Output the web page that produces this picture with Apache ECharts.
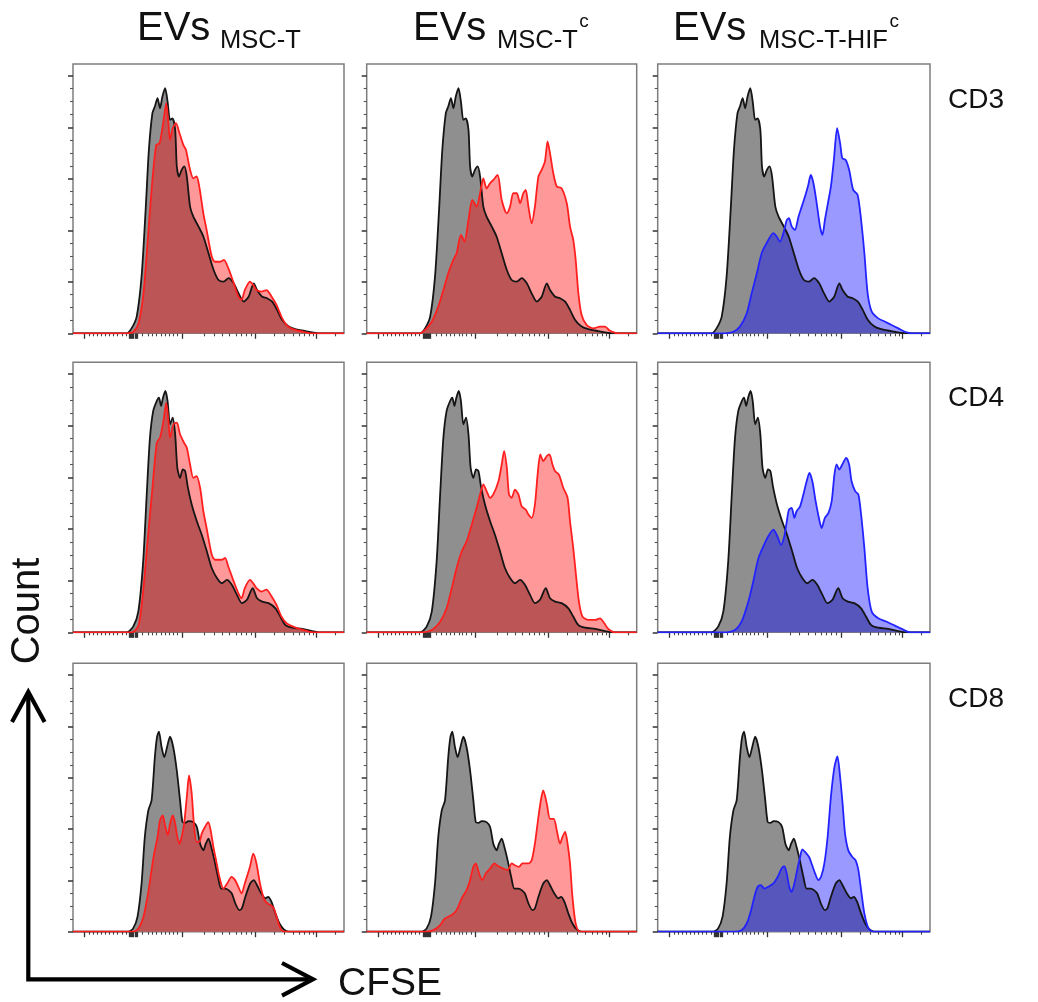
<!DOCTYPE html>
<html>
<head>
<meta charset="utf-8">
<script src="https://cdn.jsdelivr.net/npm/echarts@6/dist/echarts.min.js"></script>
<style>
  html, body { margin: 0; padding: 0; background: #ffffff; }
  #chart { width: 1038px; height: 1002px; }
</style>
</head>
<body>
<div id="chart"></div>
<script>
// ---------------- DATA ----------------
// x: CFSE display channel (0-100 across the plot), y: Count (major tick every 20)
const xMajorTicks = [4.2, 20.8, 21.2, 21.6, 22.0, 22.4, 22.8, 23.2, 23.6, 40.2, 67.3, 89.9];
const xMinorTicks = [6.0, 7.5, 9.1, 10.6, 11.9, 13.4, 14.9, 16.5, 18.0, 19.6,
  25.7, 27.6, 29.4, 30.9, 32.5, 34.1, 35.5, 37.0, 38.6,
  48.5, 52.1, 55.2, 57.7, 60.1, 62.0, 63.8, 65.7,
  74.3, 78.0, 81.1, 83.5, 85.3, 87.2, 88.7, 96.8];
const yMajorTicks = [0, 20, 40, 60, 80, 100];
const yMinorTicks = [5, 10, 15, 25, 30, 35, 45, 50, 55, 65, 70, 75, 85, 90, 95];

const columnMain = ['EVs', 'EVs', 'EVs'];
const columnSub = ['MSC-T', 'MSC-T', 'MSC-T-HIF'];
const columnSup = ['', 'c', 'c'];
const rowLabels = ['CD3', 'CD4', 'CD8'];
const xTitle = 'CFSE';
const yTitle = 'Count';

// Unstimulated / control histograms (grey), one per row
const ctrlCD3 = [[0,0],[19.8,0],[21.6,1.9],[23.5,6.5],[25.3,22.0],[26.8,47.9],[28.0,71.2],[29.3,85.5],[30.2,88.1],[31.2,91.3],[32.1,87.4],[33.0,92.0],[34.0,95.2],[34.9,90.0],[35.8,82.9],[36.7,83.5],[37.7,79.0],[38.3,64.8],[39.1,60.9],[40.1,63.5],[41.1,64.8],[42.0,60.9],[43.2,49.2],[44.4,45.3],[46.3,41.5],[48.1,37.6],[50.0,31.1],[51.9,24.6],[53.7,20.7],[55.6,20.1],[57.4,21.4],[59.3,19.4],[61.1,15.5],[63.0,12.3],[64.8,14.2],[66.7,19.4],[67.9,16.8],[69.8,14.2],[71.6,13.6],[73.5,12.3],[75.3,9.1],[77.2,5.2],[79.6,2.6],[82.1,1.6],[87.0,0.6],[90.7,0],[100,0]];
const ctrlCD4 = [[0,0],[19.8,0],[22.2,2.2],[24.1,8.0],[25.9,27.5],[27.2,53.4],[28.4,75.4],[29.6,85.8],[30.9,89.6],[31.7,90.9],[32.5,87.7],[33.2,90.9],[34.1,93.5],[34.9,89.6],[35.8,80.6],[36.8,83.2],[37.7,76.7],[38.5,63.7],[39.5,59.8],[40.5,63.1],[41.4,62.4],[42.3,56.6],[43.8,49.5],[45.7,43.0],[47.5,37.8],[49.4,31.3],[51.2,24.9],[53.1,21.0],[54.9,19.0],[56.8,20.3],[58.6,18.4],[60.5,14.5],[62.3,11.3],[64.2,12.6],[66.3,17.1],[67.9,13.2],[69.8,11.9],[72.2,11.3],[74.7,9.3],[76.5,6.1],[78.4,2.8],[80.9,1.8],[84.6,1.3],[88.3,0.5],[90.7,0],[100,0]];
const ctrlCD8 = [[0,0],[20.4,0],[22.2,1.3],[23.8,5.8],[25.3,18.8],[26.5,36.9],[27.8,47.3],[29.0,51.2],[30.2,68.0],[31.0,75.8],[31.7,78.0],[32.7,71.9],[33.7,68.0],[34.7,71.9],[35.8,76.0],[37.0,71.9],[38.3,62.8],[39.5,51.2],[40.4,42.7],[41.4,42.4],[42.6,43.1],[44.4,42.7],[45.7,40.8],[46.9,34.3],[48.1,31.7],[49.0,34.3],[50.0,36.3],[51.0,33.0],[52.2,27.8],[53.5,21.4],[54.7,16.8],[56.2,16.8],[57.4,16.2],[58.6,14.9],[59.9,11.0],[61.4,8.4],[62.3,9.1],[63.6,13.6],[65.4,18.8],[66.7,20.1],[67.9,18.1],[69.5,14.9],[71.0,13.0],[72.0,13.6],[73.2,11.7],[74.7,7.1],[76.2,3.2],[77.8,0.9],[79.6,0],[100,0]];

// EVs MSC-T (red)
const mscT_CD3 = [[0,0],[19.9,0],[22.3,0.6],[24.2,3.9],[26.0,15.5],[27.5,35.0],[29.1,57.0],[30.7,73.2],[31.9,73.8],[32.8,78.4],[33.6,84.2],[34.4,89.4],[35.2,81.6],[35.8,75.1],[36.8,79.7],[38.0,81.6],[39.3,77.7],[40.7,73.2],[41.7,71.2],[43.2,63.5],[44.4,60.2],[45.6,60.9],[46.6,57.0],[48.1,46.6],[49.3,40.2],[51.2,29.8],[52.4,27.8],[54.2,27.8],[55.7,28.5],[57.3,25.3],[59.1,20.1],[61.0,14.2],[62.2,13.0],[63.4,16.8],[65.3,20.1],[66.5,18.8],[67.7,16.8],[69.6,16.2],[71.4,16.8],[73.3,14.2],[75.1,11.0],[76.9,6.5],[78.8,3.2],[81.2,1.6],[84.9,0.6],[88.6,0],[100,0]];
const mscT_CD4 = [[0,0],[21.7,0],[24.2,2.8],[26.0,17.1],[27.5,35.2],[29.1,53.4],[30.9,73.4],[32.1,75.4],[33.4,81.9],[34.4,89.0],[35.2,81.9],[35.8,75.4],[37.1,80.6],[38.3,81.2],[39.5,76.7],[41.0,73.4],[42.0,71.5],[43.2,65.0],[44.4,59.8],[45.6,60.5],[46.9,56.0],[48.1,46.9],[49.3,40.4],[51.2,30.1],[52.4,28.1],[54.8,28.1],[56.1,28.8],[57.3,25.5],[59.1,20.3],[61.0,15.2],[62.2,13.2],[63.4,17.1],[65.3,20.3],[66.5,19.0],[67.7,17.1],[69.6,15.8],[71.4,16.5],[73.3,13.9],[75.1,10.6],[76.9,6.1],[78.8,3.5],[81.2,2.2],[84.9,0.9],[88.6,0],[100,0]];
const mscT_CD8 = [[0,0],[22.3,0],[24.2,1.3],[26.0,5.8],[27.9,16.2],[29.7,29.1],[31.2,36.9],[32.1,43.4],[33.1,45.3],[34.1,40.8],[35.0,37.6],[35.8,42.1],[36.8,45.3],[37.7,42.1],[38.5,36.9],[39.3,34.3],[40.1,36.9],[41.0,42.1],[42.0,52.5],[42.8,60.9],[43.8,53.8],[44.7,40.8],[45.6,35.0],[46.6,35.0],[47.5,38.2],[48.7,40.8],[49.9,42.7],[50.8,39.5],[51.8,33.0],[52.8,27.8],[54.0,21.4],[55.5,16.8],[56.9,18.8],[58.5,21.4],[59.8,20.1],[61.0,17.5],[62.2,14.9],[63.4,18.8],[65.3,25.3],[66.5,30.4],[67.7,26.6],[69.0,18.8],[70.4,13.0],[71.7,11.0],[72.9,10.4],[74.1,9.1],[75.1,5.8],[76.3,1.9],[77.8,0],[100,0]];

// EVs MSC-Tc (red)
const mscTc_CD3 = [[0,0],[19.8,0],[21.6,1.3],[24.1,4.5],[26.5,10.4],[28.4,16.8],[30.2,23.3],[32.1,28.5],[33.3,31.1],[34.9,38.2],[36.2,35.6],[37.7,44.0],[39.1,51.8],[40.7,49.2],[42.0,54.4],[43.2,60.2],[44.4,56.3],[45.7,58.3],[46.9,59.6],[48.5,61.5],[50.0,51.8],[51.9,46.6],[53.1,49.2],[54.3,54.4],[55.6,54.4],[56.8,50.5],[58.0,54.4],[58.9,55.7],[59.9,49.2],[61.1,42.7],[62.3,49.2],[63.6,60.9],[64.8,63.5],[66.0,66.7],[67.0,74.5],[67.9,69.9],[69.1,62.2],[70.4,57.0],[72.2,56.3],[74.1,50.5],[75.3,41.5],[76.5,36.3],[77.4,28.5],[78.4,15.5],[79.6,7.1],[81.5,3.2],[84.0,1.9],[86.4,2.6],[88.3,2.6],[90.1,1.0],[93.2,0],[100,0]];
const mscTc_CD4 = [[0,0],[20.4,0],[24.1,0.9],[27.2,4.1],[29.6,9.3],[31.5,17.1],[33.3,24.9],[35.2,31.3],[37.0,35.2],[38.9,41.7],[40.7,48.2],[42.0,53.4],[43.2,57.3],[44.4,54.7],[45.7,52.1],[46.9,53.4],[48.8,58.5],[50.0,65.0],[50.9,70.2],[51.9,63.7],[52.7,53.4],[53.7,52.1],[54.9,55.3],[56.2,53.4],[57.4,48.8],[58.9,47.5],[59.9,45.6],[61.1,44.3],[62.3,49.5],[63.3,61.1],[64.3,68.9],[65.4,66.3],[66.7,68.3],[67.7,68.9],[68.8,65.0],[69.8,62.4],[71.2,61.1],[72.8,56.0],[74.4,52.1],[75.3,43.0],[76.5,32.6],[77.5,22.3],[78.6,11.9],[79.9,6.1],[82.1,4.8],[84.6,4.8],[86.4,5.4],[88.0,3.5],[89.5,1.3],[92.0,0],[100,0]];
const mscTc_CD8 = [[0,0],[22.2,0],[24.7,0.6],[27.2,2.6],[29.0,5.2],[31.5,6.5],[33.3,8.4],[35.2,13.0],[37.0,16.2],[38.3,20.1],[39.5,25.3],[40.4,26.6],[41.6,22.7],[42.8,20.1],[44.1,22.7],[45.7,24.6],[47.3,26.6],[48.8,25.5],[50.6,24.6],[52.2,24.0],[53.7,26.6],[54.9,25.9],[56.4,25.3],[57.7,26.6],[58.9,26.6],[59.9,26.6],[61.1,27.8],[62.3,34.3],[63.6,44.7],[64.6,51.8],[65.4,55.1],[66.7,49.9],[67.9,44.0],[69.3,44.0],[70.4,39.5],[71.6,34.3],[72.5,36.9],[73.5,38.9],[74.3,35.0],[75.3,26.6],[76.2,13.6],[77.4,3.2],[79.0,0],[100,0]];

// EVs MSC-T-HIFc (blue)
const hifc_CD3 = [[0,0],[24.7,0],[27.8,0.6],[30.2,2.6],[32.7,7.8],[34.5,15.5],[36.4,23.3],[38.2,31.1],[40.0,35.0],[42.5,38.9],[43.7,37.6],[44.9,35.6],[46.5,40.2],[47.4,44.0],[48.2,44.7],[49.2,41.5],[50.4,40.2],[51.7,45.3],[52.9,49.2],[54.1,53.1],[55.3,57.6],[56.2,61.5],[57.2,58.3],[58.4,50.5],[59.6,41.5],[60.5,38.2],[61.4,44.0],[62.4,49.9],[63.6,57.0],[64.7,67.4],[65.9,79.7],[67.0,73.8],[67.8,68.0],[69.0,67.4],[70.3,63.5],[71.8,55.7],[73.4,53.8],[74.7,44.0],[75.9,31.1],[77.1,15.5],[78.6,8.4],[81.0,5.8],[83.5,4.5],[85.9,3.2],[88.4,1.9],[90.8,0.6],[93.3,0],[100,0]];
const hifc_CD4 = [[0,0],[25.3,0],[28.4,0.9],[30.8,4.1],[33.3,11.9],[35.1,19.7],[37.0,28.8],[38.8,33.3],[40.6,37.2],[42.5,39.8],[43.7,37.8],[45.3,33.9],[46.5,37.2],[47.4,43.0],[48.2,47.5],[49.2,48.2],[50.2,44.3],[51.0,46.9],[52.3,48.8],[53.5,53.4],[54.7,58.5],[55.7,61.8],[56.8,58.5],[58.0,50.8],[59.2,44.3],[60.2,40.4],[61.4,44.3],[62.7,46.2],[63.9,50.8],[64.9,61.1],[65.7,65.0],[66.7,63.1],[67.8,65.0],[69.2,67.6],[70.3,65.0],[71.2,58.5],[72.5,54.7],[73.7,53.4],[74.7,45.6],[75.9,32.6],[77.1,17.1],[78.6,8.0],[81.0,5.4],[84.1,4.1],[87.1,2.6],[89.6,1.3],[92.7,0],[100,0]];
const hifc_CD8 = [[0,0],[28.4,0],[30.8,0.6],[32.7,3.2],[34.3,8.4],[35.5,13.6],[36.7,17.5],[37.9,18.1],[39.2,16.8],[40.6,17.5],[42.5,18.8],[44.1,21.4],[45.5,24.6],[46.5,25.5],[47.4,22.7],[48.3,17.5],[49.2,15.5],[50.2,18.8],[51.2,24.0],[52.3,29.1],[53.1,32.1],[54.1,31.1],[55.6,29.1],[56.5,26.6],[57.8,22.7],[59.0,20.1],[60.0,21.4],[61.2,26.6],[62.4,36.9],[63.6,52.5],[64.9,64.1],[66.0,68.3],[67.0,60.2],[67.9,49.9],[68.8,38.2],[70.0,31.7],[71.5,29.1],[72.7,27.8],[73.7,24.0],[74.7,16.2],[75.9,7.1],[77.4,1.3],[79.2,0],[100,0]];

// ---------------- LAYOUT ----------------
const controls = [ctrlCD3, ctrlCD4, ctrlCD8];
const treated = [
  [mscT_CD3, mscTc_CD3, hifc_CD3],
  [mscT_CD4, mscTc_CD4, hifc_CD4],
  [mscT_CD8, mscTc_CD8, hifc_CD8]
];
const colLefts = [73, 366.7, 657.7];
const colWidths = [271, 270, 272.3];
const rowTops = [64, 362.3, 663.3];
const rowHeights = [269.3, 270, 268.4];
const colLine = ['#ff1f1f', '#ff1f1f', '#2323ff'];
const colFill = ['rgba(255,0,0,0.4)', 'rgba(255,0,0,0.4)', 'rgba(0,0,255,0.4)'];
const FONT = '"Liberation Sans", Arial, Helvetica, sans-serif';

const grids = [], xAxes = [], yAxes = [], series = [];
let g = 0;
for (let r = 0; r < 3; r++) {
  for (let c = 0; c < 3; c++) {
    grids.push({
      left: colLefts[c], top: rowTops[r], width: colWidths[c], height: rowHeights[r],
      show: true, borderColor: '#7d7d7d', borderWidth: 1.5, backgroundColor: 'transparent'
    });
    const baseX = {
      type: 'value', gridIndex: g, min: 0, max: 100, position: 'bottom',
      axisLine: { show: false }, axisLabel: { show: false }, splitLine: { show: false }
    };
    xAxes.push(Object.assign({}, baseX, {
      axisTick: { show: true, inside: false, length: 5.5, customValues: xMajorTicks, lineStyle: { color: '#333', width: 1.3 } }
    }));
    xAxes.push(Object.assign({}, baseX, {
      axisTick: { show: true, inside: false, length: 3, customValues: xMinorTicks, lineStyle: { color: '#444', width: 1.1 } }
    }));
    const baseY = {
      type: 'value', gridIndex: g, min: 0, max: 104.6, position: 'left',
      axisLine: { show: false }, axisLabel: { show: false }, splitLine: { show: false }
    };
    yAxes.push(Object.assign({}, baseY, {
      axisTick: { show: true, inside: false, length: 5, customValues: yMajorTicks, lineStyle: { color: '#333', width: 1.5 } }
    }));
    yAxes.push(Object.assign({}, baseY, {
      axisTick: { show: true, inside: false, length: 3, customValues: yMinorTicks, lineStyle: { color: '#555', width: 1.1 } }
    }));
    series.push({
      type: 'line', xAxisIndex: 2 * g, yAxisIndex: 2 * g, data: controls[r],
      symbol: 'none', smooth: 0.25, silent: true,
      lineStyle: { color: '#151515', width: 1.8 },
      areaStyle: { color: '#8f8f8f', opacity: 1 }
    });
    series.push({
      type: 'line', xAxisIndex: 2 * g, yAxisIndex: 2 * g, data: treated[r][c],
      symbol: 'none', smooth: 0.25, silent: true,
      lineStyle: { color: colLine[c], width: 1.8 },
      areaStyle: { color: colFill[c], opacity: 1 }
    });
    g++;
  }
}

// measure text widths so the superscript sits right after the subscript
const measureCtx = document.createElement('canvas').getContext('2d');
function textWidth(str, font) { measureCtx.font = font; return measureCtx.measureText(str).width; }

// text + arrows
const graphic = [];
const mainX = [137, 413, 673];
const subX = [220, 497, 759];
const SUB_FONT = '25.5px ' + FONT;
for (let c = 0; c < 3; c++) {
  graphic.push({ type: 'text', x: mainX[c], y: 29, style: { text: columnMain[c], font: '40px ' + FONT, fill: '#111', textAlign: 'left', textVerticalAlign: 'middle' } });
  graphic.push({ type: 'text', x: subX[c], y: 41, style: { text: columnSub[c], font: SUB_FONT, fill: '#111', textAlign: 'left', textVerticalAlign: 'middle' } });
  if (columnSup[c]) {
    const sx = subX[c] + textWidth(columnSub[c], SUB_FONT) + 1.5;
    graphic.push({ type: 'text', x: sx, y: 21.5, style: { text: columnSup[c], font: '19px ' + FONT, fill: '#111', textAlign: 'left', textVerticalAlign: 'middle' } });
  }
}
for (let r = 0; r < 3; r++) {
  graphic.push({ type: 'text', x: 948, y: rowTops[r] + 36, style: { text: rowLabels[r], font: '28px ' + FONT, fill: '#111', textAlign: 'left', textVerticalAlign: 'middle' } });
}
graphic.push({ type: 'text', x: 28, y: 611, rotation: Math.PI / 2, style: { text: yTitle, font: '40px ' + FONT, fill: '#111', textAlign: 'center', textVerticalAlign: 'middle' } });
graphic.push({ type: 'text', x: 338, y: 984, style: { text: xTitle, font: '39px ' + FONT, fill: '#111', textAlign: 'left', textVerticalAlign: 'middle' } });
// axes arrows
graphic.push({ type: 'polyline', shape: { points: [[28.3, 695], [28.3, 979.3], [310, 979.3]] }, style: { stroke: '#000', lineWidth: 4.2, fill: null, lineJoin: 'miter' } });
graphic.push({ type: 'polyline', shape: { points: [[12, 722], [28.3, 692], [44.6, 722]] }, style: { stroke: '#000', lineWidth: 4.2, fill: null, lineJoin: 'miter' } });
graphic.push({ type: 'polyline', shape: { points: [[282, 963], [313, 979.3], [282, 995.6]] }, style: { stroke: '#000', lineWidth: 4.2, fill: null, lineJoin: 'miter' } });

const chart = echarts.init(document.getElementById('chart'), null, { renderer: 'canvas' });
chart.setOption({
  backgroundColor: '#ffffff',
  animation: false,
  grid: grids,
  xAxis: xAxes,
  yAxis: yAxes,
  series: series,
  graphic: graphic
});
</script>
</body>
</html>
